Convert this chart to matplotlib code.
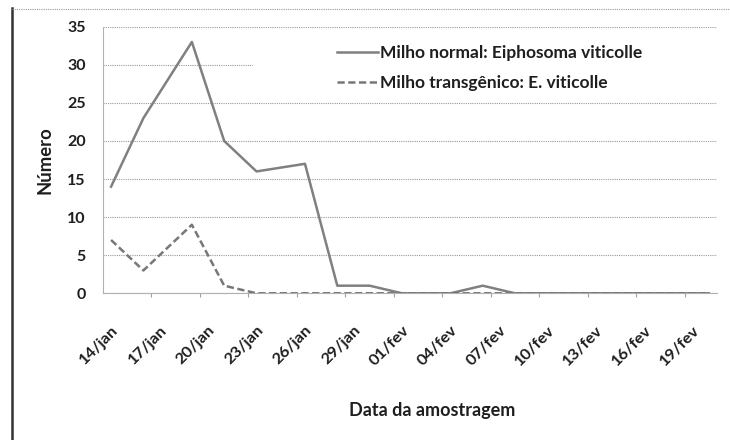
import matplotlib
matplotlib.use("Agg")
import matplotlib.pyplot as plt
from matplotlib.lines import Line2D
from matplotlib.patches import Rectangle
import pandas as pd

# ---- data ----
sample_dates = ['14/jan', '16/jan', '19/jan', '21/jan', '23/jan', '26/jan', '28/jan',
                '30/jan', '01/fev', '04/fev', '06/fev', '08/fev', '11/fev', '13/fev',
                '15/fev', '18/fev', '20/fev']
milho_normal = [14, 23, 33, 20, 16, 17, 1, 1, 0, 0, 1, 0, 0, 0, 0, 0, 0]
milho_transgenico = [7, 3, 9, 1, 0, 0, 0, 0, 0, 0, 0, 0, 0, 0, 0, 0, 0]
tick_labels = ['14/jan', '17/jan', '20/jan', '23/jan', '26/jan', '29/jan', '01/fev',
               '04/fev', '07/fev', '10/fev', '13/fev', '16/fev', '19/fev']
axis_first, axis_last = '14/jan', '20/fev'
series_names = ['Milho normal: Eiphosoma viticolle', 'Milho transgênico: E. viticolle']
y_ticks = [0, 5, 10, 15, 20, 25, 30, 35]

MONTHS = {'jan': 1, 'fev': 2}


def to_date(s):
    d, m = s.split('/')
    return pd.Timestamp(2010, MONTHS[m], int(d))


start = to_date(axis_first)


def day_index(s):
    return (to_date(s) - start).days


x_vals = [day_index(s) for s in sample_dates]
tick_pos = [day_index(s) for s in tick_labels]
n_days = day_index(axis_last) + 1

# ---- figure ----
W, H = 730, 440
fig = plt.figure(figsize=(W / 100, H / 100), dpi=100)
FONT = 'Lato'
TXT = '#1e1e1e'
LW = 1.8
DASH = (0, (2.9, 1.4))

ax = fig.add_axes([103 / W, (H - 293.3) / H, (717 - 103) / W, (293.3 - 26.7) / H])
ax.set_xlim(-0.5, n_days - 0.5)
ax.set_ylim(0, 35)

ax.plot(x_vals, milho_normal, color='#808080', lw=LW, solid_joinstyle='round', zorder=3)
ax.plot(x_vals, milho_transgenico, color='#777777', lw=LW, ls=DASH, zorder=3)

# grid
ax.set_yticks(y_ticks)
ax.yaxis.grid(True, color='#9a9a9a', lw=0.8, ls=(0, (1, 1)))
ax.set_axisbelow(True)
for s in ['top', 'right']:
    ax.spines[s].set_visible(False)
for s in ['left', 'bottom']:
    ax.spines[s].set_color('#b0b0b0')
    ax.spines[s].set_linestyle((0, (1, 1)))
    ax.spines[s].set_linewidth(0.8)

ax.tick_params(axis='y', length=0, pad=12.5, labelsize=11.5, labelcolor=TXT)
for lab in ax.get_yticklabels():
    lab.set_fontweight('bold')
    lab.set_family(FONT)

# x ticks: marks at day boundaries, labels at day centers
ax.set_xticks([-0.5 + 3 * k for k in range(1, 13)])
ax.set_xticklabels([])
ax.tick_params(axis='x', which='major', length=3, color='#a0a0a0', width=0.8)
ax.set_xticks(tick_pos, minor=True)
ax.set_xticklabels(tick_labels, minor=True, rotation=45, ha='right',
                   rotation_mode='anchor', fontsize=11.8, fontweight='bold',
                   family=FONT, color=TXT)
ax.tick_params(axis='x', which='minor', length=0, pad=21.5)

ax.set_ylabel('Número', fontsize=13.3, fontweight='bold', family=FONT, color=TXT, labelpad=10)
fig.text(432 / W, 1 - 410 / H, 'Data da amostragem', ha='center', va='center',
         fontsize=13, fontweight='bold', family=FONT, color=TXT)

# legend background box (hides gridline at 30)
fig.add_artist(Rectangle((253 / W, 1 - 98 / H), (717 - 253) / W, 62 / H,
                         transform=fig.transFigure, facecolor='white', edgecolor='none',
                         zorder=2))
handles = [Line2D([], [], color='#808080', lw=LW),
           Line2D([], [], color='#777777', lw=LW, ls=DASH)]
leg = fig.legend(handles, series_names, loc='upper left',
                 bbox_to_anchor=(337 / W, 1 - 45.5 / H), frameon=False, borderpad=0,
                 borderaxespad=0,
                 handlelength=2.35, handletextpad=0.12, labelspacing=0.8,
                 prop={'family': FONT, 'weight': 'bold', 'size': 12.5})
for t in leg.get_texts():
    t.set_color(TXT)
leg.set_zorder(4)

# page borders
fig.add_artist(Line2D([12 / W, 12 / W], [0, 1 - 8 / H], transform=fig.transFigure,
                      color='#333333', lw=1.8))
fig.add_artist(Line2D([12 / W, 1], [1 - 9 / H, 1 - 9 / H], transform=fig.transFigure,
                      color='#999999', lw=0.8, ls=(0, (1, 1))))

fig.savefig('out.png', dpi=100, facecolor='white')
